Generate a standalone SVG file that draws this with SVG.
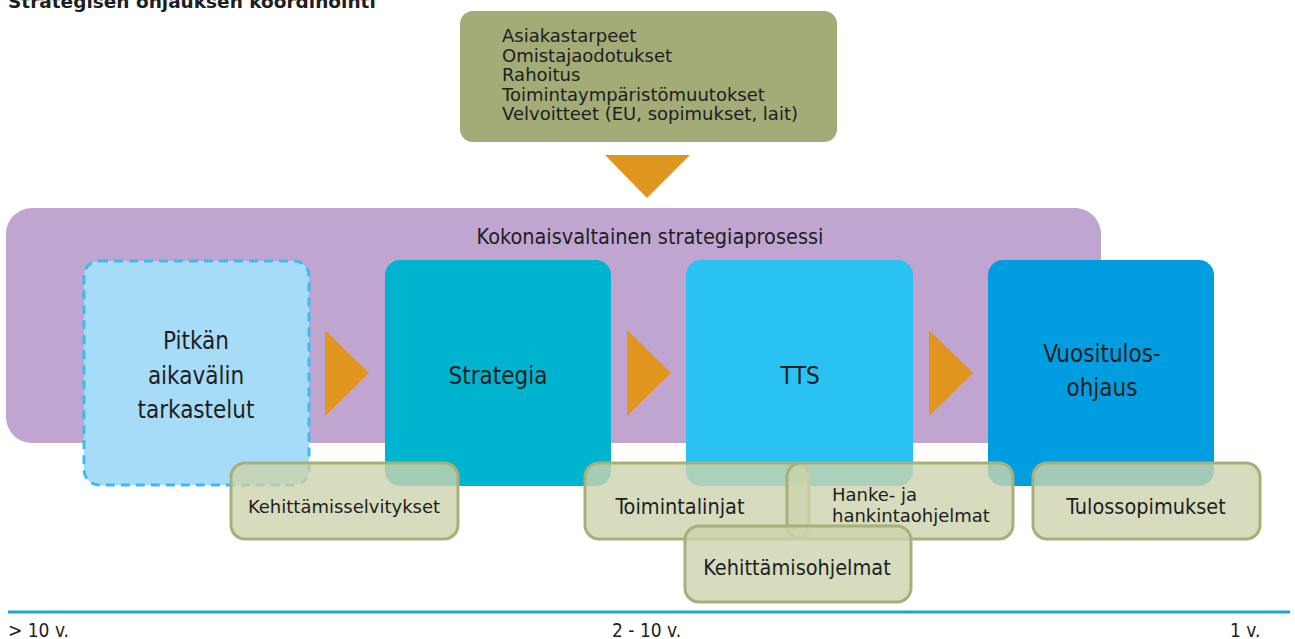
<svg xmlns="http://www.w3.org/2000/svg" width="1295" height="639" viewBox="0 0 1295 639">
<style>
.t{font-family:"Liberation Sans Narrow","DejaVu Sans Condensed","Liberation Sans",sans-serif;fill:#1e1e1e}
.h{font-family:"DejaVu Sans","Liberation Sans",sans-serif;fill:#1e1e1e}
.big{font-size:24px;text-anchor:middle}
.sm{font-size:21.5px;text-anchor:middle}
.g{fill:#ccd3ac;fill-opacity:0.8;stroke:#a8b07a;stroke-width:3}
.tri{fill:#e0961e}
</style>
<rect width="1295" height="639" fill="#ffffff"/>
<text class="h" x="8" y="8" font-size="18.5" font-weight="bold">Strategisen ohjauksen koordinointi</text>
<g id="inputs">
<rect x="460" y="11" width="377" height="131" rx="13" fill="#a3ab77"/>
<text class="h" x="502" y="42" font-size="18">Asiakastarpeet</text>
<text class="h" x="502" y="61.5" font-size="18">Omistajaodotukset</text>
<text class="h" x="502" y="81" font-size="18">Rahoitus</text>
<text class="h" x="502" y="100.5" font-size="18">Toimintaympäristömuutokset</text>
<text class="h" x="502" y="120" font-size="18">Velvoitteet (EU, sopimukset, lait)</text>
</g>
<g id="process">
<rect x="6" y="208" width="1095" height="235" rx="26" fill="#c1a5d1"/>
<text class="t" x="650" y="244" font-size="21.5" text-anchor="middle">Kokonaisvaltainen strategiaprosessi</text>
</g>
<g id="connectors">
<polygon class="tri" points="605,155 690,155 647,198"/>
<polygon class="tri" points="325,330 369,373 325,416"/>
<polygon class="tri" points="627,330 671,373 627,416"/>
<polygon class="tri" points="929,330 973,373 929,416"/>
</g>
<g id="pitkan">
<rect x="84" y="261" width="225" height="224" rx="15" fill="#a6dcf7" stroke="#3bbbef" stroke-width="3" stroke-dasharray="9,6"/>
<text class="t big" x="196" y="349">Pitkän</text>
<text class="t big" x="196" y="384">aikavälin</text>
<text class="t big" x="196" y="418">tarkastelut</text>
</g>
<g id="strategia">
<rect x="385" y="260" width="226" height="226" rx="15" fill="#00b4cf"/>
<text class="t big" x="498" y="384">Strategia</text>
</g>
<g id="tts">
<rect x="686" y="260" width="227" height="226" rx="15" fill="#29c2f2"/>
<text class="t big" x="800" y="384">TTS</text>
</g>
<g id="vuositulos">
<rect x="988" y="260" width="226" height="226" rx="15" fill="#009ee0"/>
<text class="t big" x="1102" y="362">Vuositulos-</text>
<text class="t big" x="1102" y="396">ohjaus</text>
</g>
<g id="kehittamisselvitykset">
<rect class="g" x="231" y="463" width="227" height="76" rx="14"/>
<text class="h" x="344" y="513" font-size="18" text-anchor="middle">Kehittämisselvitykset</text>
</g>
<g id="toimintalinjat">
<rect class="g" x="585" y="463" width="224" height="76" rx="14"/>
<text class="t sm" x="680" y="514">Toimintalinjat</text>
</g>
<g id="hanke">
<rect class="g" x="787" y="463" width="226" height="76" rx="14"/>
<text class="h" x="832" y="501" font-size="18">Hanke- ja</text>
<text class="h" x="832" y="522" font-size="18">hankintaohjelmat</text>
</g>
<g id="kehittamisohjelmat">
<rect class="g" x="685" y="526" width="226" height="76" rx="14"/>
<text class="t sm" x="797" y="575">Kehittämisohjelmat</text>
</g>
<g id="tulossopimukset">
<rect class="g" x="1033" y="463" width="227" height="76" rx="14"/>
<text class="t sm" x="1146" y="514">Tulossopimukset</text>
</g>
<g id="timeline">
<line x1="8" y1="612" x2="1290" y2="612" stroke="#1ea5d8" stroke-width="3"/>
<text class="t" x="8" y="637" font-size="19">&gt; 10 v.</text>
<text class="t" x="612" y="637" font-size="19">2 - 10 v.</text>
<text class="t" x="1230" y="637" font-size="19">1 v.</text>
</g>
</svg>
